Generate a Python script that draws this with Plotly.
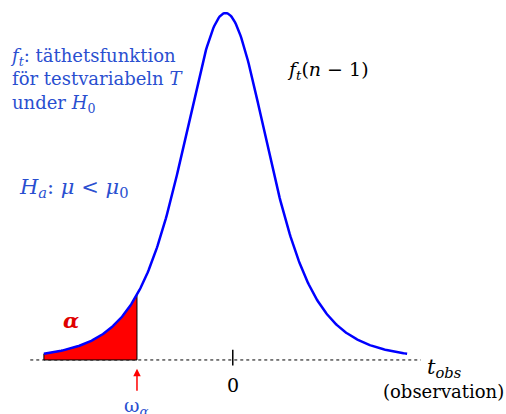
import numpy as np
import plotly.graph_objects as go
from math import gamma, pi, sqrt

# data
df_t = 4
t_min, t_max = -4.0, 4.0
t_crit = -1.95
zero_tick = [0.16]
tick_labels = ["0"]

def tpdf(t, nu):
    c = gamma((nu + 1) / 2) / (sqrt(nu * pi) * gamma(nu / 2))
    return c * (1 + t ** 2 / nu) ** (-(nu + 1) / 2)

t = np.linspace(t_min, t_max, 400)
y = tpdf(t, df_t)

tc = np.linspace(t_min, t_crit, 150)
yc = tpdf(tc, df_t)

blue_txt = "#2a4fd0"
serif = "DejaVu Serif"

fig = go.Figure()

fig.add_trace(go.Scatter(x=[-4.3, 4.3], y=[0, 0], mode="lines",
                         line=dict(color="black", width=1, dash="dot"),
                         hoverinfo="skip", showlegend=False))

fig.add_trace(go.Scatter(x=np.concatenate([tc, [t_crit, t_min, t_min]]),
                         y=np.concatenate([yc, [0, 0, yc[0]]]),
                         mode="lines", fill="toself", fillcolor="#ff0000",
                         line=dict(color="black", width=1),
                         hoverinfo="skip", showlegend=False))

fig.add_trace(go.Scatter(x=t, y=y, mode="lines",
                         line=dict(color="#0000ff", width=2.5),
                         hoverinfo="skip", showlegend=False))

fig.add_trace(go.Scatter(x=[zero_tick[0], zero_tick[0]], y=[-0.006, 0.011], mode="lines",
                         line=dict(color="black", width=1.5),
                         hoverinfo="skip", showlegend=False))

ann = []
ann.append(dict(x=zero_tick[0], y=-0.027, text=tick_labels[0], showarrow=False,
                font=dict(family=serif, size=19, color="black")))
ann.append(dict(x=-4.78, y=0.3025, xanchor="left",
                text="<i>f</i><sub><i>t</i></sub>: täthetsfunktion<br>för testvariabeln <i>T</i><br>under <i>H</i><sub>0</sub>",
                align="left", showarrow=False,
                font=dict(family=serif, size=18, color=blue_txt)))
ann.append(dict(x=-4.6, y=0.186, xanchor="left",
                text="<i>H<sub>a</sub></i>: <i>μ</i> &lt; <i>μ</i><sub>0</sub>",
                showarrow=False, font=dict(family=serif, size=21, color=blue_txt)))
ann.append(dict(x=1.3, y=0.313, xanchor="left",
                text="<i>f</i><sub><i>t</i></sub>(<i>n</i> − 1)",
                showarrow=False, font=dict(family=serif, size=19, color="black")))
ann.append(dict(x=-3.4, y=0.043, text="<b><i>α</i></b>", showarrow=False,
                font=dict(family=serif, size=21, color="#e00000")))
ann.append(dict(x=t_crit, y=-0.0095, ax=t_crit, ay=-0.035, xref="x", yref="y",
                axref="x", ayref="y", text="", showarrow=True,
                arrowhead=2, arrowsize=1, arrowwidth=1.5, arrowcolor="#ff0000"))
ann.append(dict(x=t_crit, y=-0.0505, text="ω<sub><i>α</i></sub>", showarrow=False,
                font=dict(family=serif, size=19, color=blue_txt)))
ann.append(dict(x=4.4, y=-0.009, xanchor="left", text="<i>t<sub>obs</sub></i>",
                showarrow=False, font=dict(family=serif, size=21, color="black")))
ann.append(dict(x=6.17, y=-0.0345, xanchor="right", text="(observation)",
                showarrow=False, font=dict(family=serif, size=18, color="black")))

fig.update_layout(
    width=506, height=414,
    margin=dict(l=0, r=0, t=0, b=0),
    paper_bgcolor="white", plot_bgcolor="white",
    xaxis=dict(range=[-4.967, 6.178], visible=False, fixedrange=True),
    yaxis=dict(range=[-0.0584, 0.389], visible=False, fixedrange=True),
    annotations=ann,
    showlegend=False,
)

fig.write_html("out.html", config={"displayModeBar": False},
               post_script="document.body.style.margin='0';document.body.style.overflow='hidden';")
